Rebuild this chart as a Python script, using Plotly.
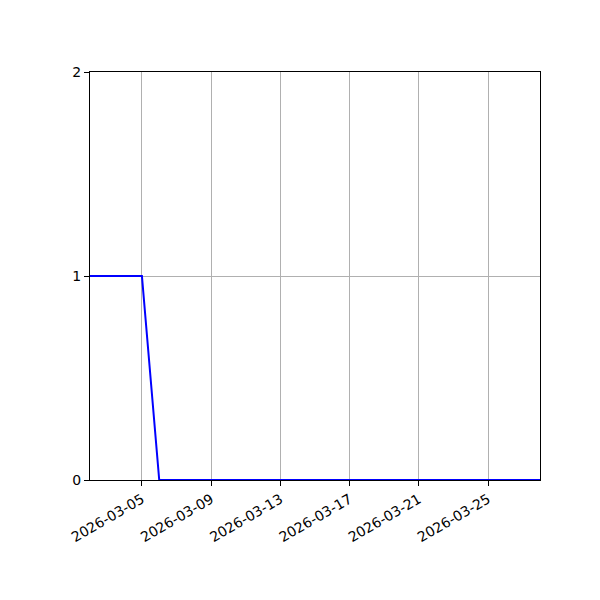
import pandas as pd
import plotly.graph_objects as go

dates = pd.date_range("2026-03-02", "2026-03-28", freq="D").strftime("%Y-%m-%d").tolist()
values = [1, 1, 1, 1] + [0] * (len(dates) - 4)
tick_dates = ["2026-03-05", "2026-03-09", "2026-03-13", "2026-03-17", "2026-03-21", "2026-03-25"]
y_ticks = [0, 1, 2]

fig = go.Figure()
fig.add_trace(go.Scatter(
    x=dates, y=values, mode="lines",
    line=dict(color="blue", width=2),
    showlegend=False, cliponaxis=False,
))

axis_style = dict(
    showline=True, linecolor="black", linewidth=1, mirror=True,
    ticks="outside", ticklen=5, tickwidth=1, tickcolor="black",
    showgrid=True, gridcolor="#b0b0b0", gridwidth=1,
    zeroline=False, tickfont=dict(size=14, color="black"),
)
fig.update_xaxes(
    type="date", range=["2026-03-02", "2026-03-28"],
    tickmode="array", tickvals=tick_dates, ticktext=tick_dates,
    tickangle=-30, **axis_style,
)
fig.update_yaxes(range=[0, 2], tickmode="array", tickvals=y_ticks, **axis_style)
fig.update_layout(
    width=600, height=600,
    margin=dict(l=82, r=68, t=64, b=128),
    plot_bgcolor="white", paper_bgcolor="white",
    font=dict(family="DejaVu Sans", color="black"),
)
fig.write_html("out.html")
